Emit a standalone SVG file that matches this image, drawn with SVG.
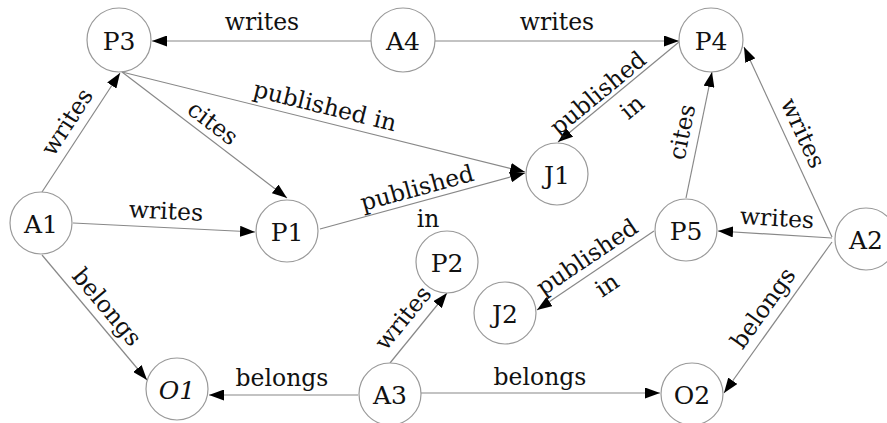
<svg xmlns="http://www.w3.org/2000/svg" width="887" height="423" viewBox="0 0 887 423">
<style>
.n circle{fill:#fff;stroke:#999;stroke-width:1.2}
.n text{font-family:"DejaVu Serif",serif;font-size:25px;fill:#111;text-anchor:middle;dominant-baseline:central}
.e line{stroke:#888;stroke-width:1.2;marker-end:url(#ah)}
.l text{font-family:"DejaVu Serif",serif;font-size:23.5px;fill:#111;text-anchor:middle;dominant-baseline:central}
</style>
<defs>
<marker id="ah" markerUnits="userSpaceOnUse" markerWidth="15" markerHeight="11" refX="15" refY="5.5" orient="auto"><path d="M0,0 L15,5.5 L0,11 z" fill="#000"/></marker>
</defs>
<g id="connectors" class="e">
<line x1="372" y1="41" x2="152" y2="41"/>
<line x1="435" y1="41" x2="679" y2="41"/>
<line x1="42" y1="192" x2="120" y2="73"/>
<line x1="122" y1="72" x2="287" y2="198"/>
<line x1="122" y1="72" x2="525" y2="172"/>
<line x1="320" y1="229" x2="525" y2="173"/>
<line x1="679" y1="42" x2="558" y2="142"/>
<line x1="686" y1="198" x2="712" y2="72"/>
<line x1="832" y1="237" x2="744" y2="47"/>
<line x1="832" y1="238" x2="718" y2="231"/>
<line x1="832" y1="242" x2="724" y2="393"/>
<line x1="654" y1="231" x2="537" y2="310"/>
<line x1="73" y1="223" x2="255" y2="232"/>
<line x1="42" y1="255" x2="147" y2="380"/>
<line x1="358" y1="395" x2="209" y2="395"/>
<line x1="421" y1="393" x2="660" y2="393"/>
<line x1="390" y1="363" x2="447" y2="293"/>
</g>
<g id="labels" class="l">
<text x="262" y="22">writes</text>
<text x="557" y="22">writes</text>
<text transform="translate(67,122) rotate(-57)">writes</text>
<text transform="translate(213,123) rotate(37.4)">cites</text>
<text transform="translate(325,106) rotate(13.9)">published in</text>
<text transform="translate(417,188) rotate(-15.3)">published</text>
<text x="428" y="219">in</text>
<text transform="translate(598,93) rotate(-39.6)">published</text>
<text transform="translate(632,107) rotate(-39.6)">in</text>
<text transform="translate(682,132) rotate(-78.3)">cites</text>
<text transform="translate(803,133) rotate(65.2)">writes</text>
<text transform="translate(777,218) rotate(3.5)">writes</text>
<text transform="translate(763,308) rotate(-54.4)">belongs</text>
<text transform="translate(587,257) rotate(-34)">published</text>
<text transform="translate(607,285) rotate(-34)">in</text>
<text transform="translate(403,318) rotate(-50.8)">writes</text>
<text x="282" y="378">belongs</text>
<text x="540" y="377">belongs</text>
<text transform="translate(107,307) rotate(50)">belongs</text>
<text transform="translate(166,211) rotate(2.8)">writes</text>
</g>
<g id="P3" class="n"><circle cx="119" cy="40" r="32"/><text x="119" y="41">P3</text></g>
<g id="A4" class="n"><circle cx="403" cy="40" r="32"/><text x="403" y="41">A4</text></g>
<g id="P4" class="n"><circle cx="711" cy="40" r="32"/><text x="711" y="41">P4</text></g>
<g id="J1" class="n"><circle cx="557" cy="174" r="31"/><text x="557" y="175">J1</text></g>
<g id="A1" class="n"><circle cx="41" cy="223" r="31"/><text x="41" y="224">A1</text></g>
<g id="P1" class="n"><circle cx="287" cy="231" r="31"/><text x="287" y="232">P1</text></g>
<g id="P2" class="n"><circle cx="447" cy="262" r="31"/><text x="447" y="263">P2</text></g>
<g id="J2" class="n"><circle cx="505" cy="313" r="31"/><text x="505" y="314">J2</text></g>
<g id="P5" class="n"><circle cx="686" cy="230" r="31"/><text x="686" y="231">P5</text></g>
<g id="A2" class="n"><circle cx="866" cy="239" r="31"/><text x="866" y="240">A2</text></g>
<g id="O1" class="n"><circle cx="177" cy="389" r="31"/><text x="177" y="390" font-style="italic">O1</text></g>
<g id="A3" class="n"><circle cx="390" cy="394" r="31"/><text x="390" y="395">A3</text></g>
<g id="O2" class="n"><circle cx="692" cy="394" r="31"/><text x="692" y="395">O2</text></g>
</svg>
